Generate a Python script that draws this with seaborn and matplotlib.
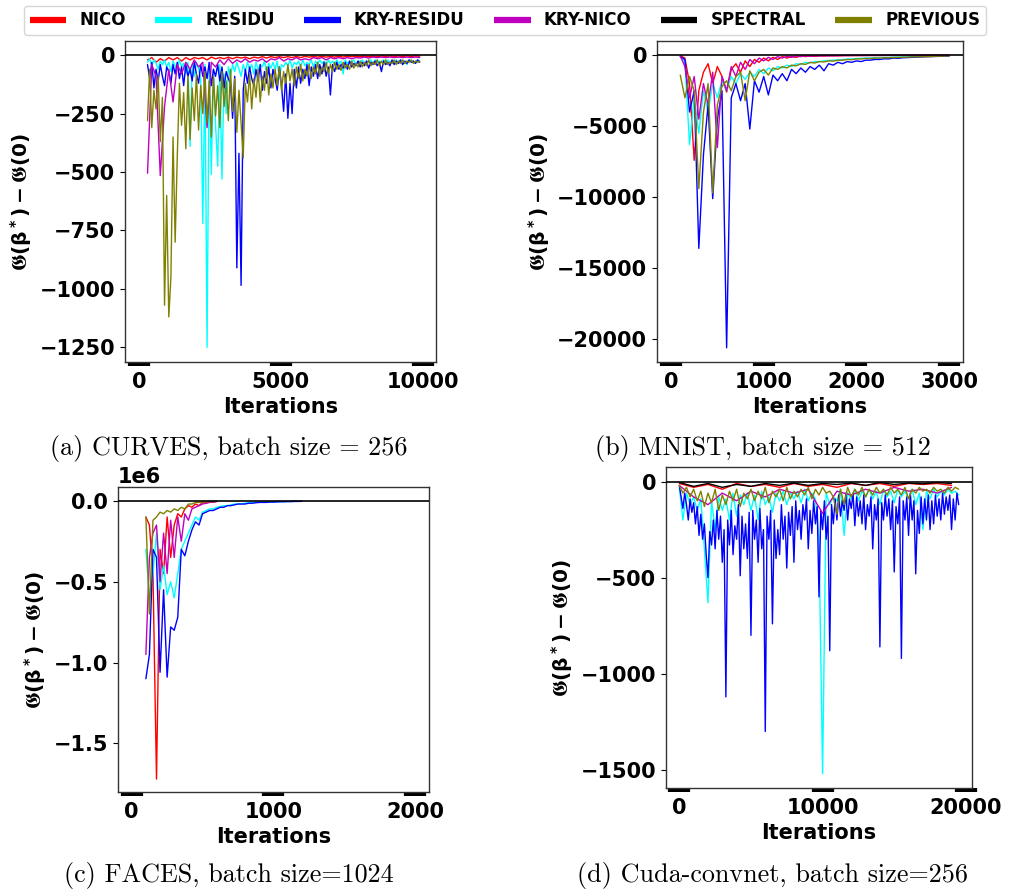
import matplotlib
matplotlib.use("Agg")
from matplotlib import pyplot as plt
from matplotlib.lines import Line2D
import pandas as pd
import numpy as np
import seaborn as sns

# legend order / colours
methods = ['NICO', 'RESIDU', 'KRY-RESIDU', 'KRY-NICO', 'SPECTRAL', 'PREVIOUS']
colors = {'NICO': '#ff0000', 'RESIDU': '#00ffff', 'KRY-RESIDU': '#0000ff',
          'KRY-NICO': '#bf00bf', 'SPECTRAL': '#000000', 'PREVIOUS': '#808000'}

# ---------------- (a) CURVES
curves_iter = np.arange(300, 9901, 75)        # 129 iterations
curves_iter_coarse = np.arange(300, 9901, 150)  # 65 iterations
curves_nico = [-20, -10, -30, -15, -25, -10, -20, -10, -25, -10,
               -20, -10, -15, -10, -20, -8, -15, -10, -15, -8,
               -15, -8, -12, -8, -15, -8, -12, -6, -12, -6,
               -10, -6, -10, -6, -10, -5, -10, -5, -8, -5,
               -8, -5, -8, -5, -8, -4, -8, -4, -6, -4,
               -6, -4, -6, -4, -6, -3, -5, -3, -5, -3,
               -5, -3, -5, -3, -4]
curves_residu = [-30, -15, -45, -20, -35, -60, -25, -40, -20, -50,
                 -30, -70, -25, -45, -60, -20, -50, -35, -80, -30,
                 -390, -40, -90, -30, -60, -100, -720, -40, -1250, -50,
                 -510, -60, -300, -475, -40, -530, -80, -250, -50, -90,
                 -40, -70, -30, -60, -90, -40, -70, -30, -60, -40,
                 -80, -30, -60, -40, -50, -25, -70, -35, -55, -30,
                 -60, -25, -100, -40, -50, -30, -45, -20, -55, -30,
                 -40, -25, -50, -20, -45, -30, -40, -20, -50, -25,
                 -40, -20, -35, -25, -45, -20, -35, -25, -40, -20,
                 -35, -25, -80, -20, -35, -25, -30, -20, -40, -25,
                 -30, -20, -35, -25, -30, -20, -35, -20, -30, -25,
                 -30, -20, -35, -20, -30, -25, -30, -20, -35, -20,
                 -30, -25, -40, -20, -30, -25, -35, -20, -25]
curves_kry_residu = [-40, -100, -30, -140, -60, -110, -40, -90, -130, -50,
                     -70, -120, -40, -80, -30, -100, -50, -130, -40, -90,
                     -60, -110, -30, -80, -120, -40, -90, -50, -100, -30,
                     -130, -60, -90, -40, -110, -50, -140, -70, -100, -120,
                     -270, -90, -910, -420, -985, -150, -60, -120, -50, -100,
                     -130, -60, -110, -40, -150, -70, -120, -50, -140, -60,
                     -100, -150, -50, -130, -240, -80, -270, -120, -250, -60,
                     -140, -50, -120, -60, -100, -40, -130, -50, -90, -40,
                     -100, -40, -80, -30, -90, -50, -170, -40, -70, -30,
                     -60, -40, -55, -30, -60, -25, -50, -35, -45, -25,
                     -50, -30, -45, -25, -55, -30, -40, -25, -45, -30,
                     -70, -25, -40, -30, -45, -20, -40, -25, -35, -20,
                     -40, -25, -35, -20, -30, -25, -35, -20, -30]
curves_kry_nico = [-505, -40, -90, -515, -220, -60, -200, -40, -80, -30,
                   -60, -20, -50, -30, -310, -30, -50, -20, -40, -15,
                   -35, -20, -30, -15, -30, -20, -25, -15, -30, -15,
                   -20, -10, -25, -15, -20, -10, -20, -15, -20, -10,
                   -15, -10, -20, -10, -15, -10, -15, -10, -15, -10,
                   -12, -8, -12, -8, -10, -8, -10, -8, -10, -8,
                   -10, -8, -10, -8, -10]
curves_previous = [-280, -60, -310, -150, -230, -90, -370, -180, -1070, -600,
                   -1120, -950, -350, -800, -430, -120, -300, -160, -400, -90,
                   -360, -140, -280, -80, -320, -130, -250, -70, -290, -110,
                   -350, -90, -260, -130, -310, -70, -220, -110, -280, -60,
                   -240, -100, -330, -150, -290, -440, -120, -200, -80, -230,
                   -100, -180, -60, -200, -90, -150, -50, -170, -80, -140,
                   -60, -130, -50, -150, -70, -120, -40, -110, -60, -130,
                   -50, -100, -40, -110, -60, -90, -40, -100, -50, -80,
                   -30, -90, -50, -70, -30, -80, -40, -70, -30, -60,
                   -40, -65, -30, -55, -40, -60, -25, -55, -35, -50,
                   -25, -50, -30, -45, -20, -45, -30, -40, -20, -45,
                   -25, -40, -20, -40, -30, -35, -20, -40, -25, -35,
                   -20, -35, -25, -30, -20, -35, -25, -30, -25]

# ---------------- (b) MNIST, iterations 100..3000 every 50
mnist_iter = np.arange(100, 3001, 50)
mnist_nico = [-50, -200, -2000, -7400, -2500, -1200, -600, -2000, -800, -1500,
              -2600, -1000, -600, -1200, -400, -800, -300, -500, -200, -400,
              -150, -300, -100, -200, -80, -150, -60, -100, -50, -80,
              -40, -60, -30, -50, -30, -40, -20, -30, -20, -25,
              -20, -20, -15, -20, -15, -15, -10, -15, -10, -10,
              -10, -10, -8, -8, -6, -6, -5, -5, -5]
mnist_residu = [-100, -500, -6300, -3000, -5500, -2500, -4000, -2000, -3000, -1800,
                -2500, -1500, -2000, -1300, -1700, -1200, -1500, -1000, -1300, -900,
                -1100, -800, -900, -700, -800, -600, -650, -500, -550, -450,
                -450, -400, -380, -350, -330, -300, -280, -260, -240, -220,
                -200, -190, -180, -170, -160, -150, -140, -130, -120, -110,
                -100, -95, -90, -80, -70, -65, -60, -50, -40]
mnist_kry_residu = [-100, -300, -4000, -2500, -13600, -7000, -3500, -10100, -4500, -2500,
                    -20600, -3000, -2000, -3200, -2000, -5200, -1800, -2600, -1500, -2800,
                    -1400, -1800, -1300, -1800, -1000, -1300, -900, -1200, -800, -1000,
                    -700, -1100, -600, -700, -500, -600, -450, -500, -400, -450,
                    -350, -350, -300, -300, -250, -260, -200, -220, -180, -170,
                    -150, -140, -120, -110, -100, -90, -80, -70, -60]
mnist_kry_nico = [-50, -800, -3000, -1500, -4500, -2000, -3500, -1200, -6500, -1500,
                  -2500, -800, -1500, -500, -1000, -300, -600, -200, -400, -150,
                  -300, -100, -200, -80, -150, -60, -100, -50, -80, -40,
                  -60, -30, -50, -30, -40, -20, -30, -20, -25, -20,
                  -20, -15, -20, -15, -15, -10, -15, -10, -10, -10,
                  -10, -8, -8, -6, -6, -5, -5, -5, -5]
mnist_previous = [-1400, -3000, -1500, -2500, -9400, -4000, -2000, -9700, -3500, -2200,
                  -1800, -2500, -1500, -1200, -3200, -1100, -1800, -1200, -1000, -1400,
                  -900, -1000, -800, -900, -700, -750, -600, -650, -500, -550,
                  -450, -480, -400, -420, -350, -360, -300, -320, -260, -270,
                  -230, -240, -200, -210, -180, -180, -160, -160, -140, -140,
                  -120, -120, -100, -100, -90, -80, -70, -60, -50]

# ---------------- (c) FACES, values in millions
faces_iter_long = np.arange(100, 1201, 25)
faces_iter_short = np.arange(100, 601, 25)
faces_nico = [-0.1, -0.15, -0.45, -1.72, -0.3, -0.45, -0.1, -0.35, -0.15, -0.08,
              -0.1, -0.05, -0.03, -0.04, -0.02, -0.03, -0.01, -0.015, -0.005, -0.008,
              -0.003]
faces_residu = [-0.3, -0.6, -0.45, -0.2, -0.55, -0.4, -0.58, -0.5, -0.6, -0.45,
                -0.3, -0.25, -0.2, -0.15, -0.1, -0.12, -0.07, -0.06, -0.05, -0.05,
                -0.04, -0.035, -0.03, -0.03, -0.025, -0.02, -0.02, -0.018, -0.015, -0.012,
                -0.012, -0.01, -0.01, -0.008, -0.008, -0.007, -0.006, -0.006, -0.005, -0.005,
                -0.004, -0.004, -0.003, -0.003, -0.003]
faces_kry_residu = [-1.1, -0.95, -0.3, -0.35, -1.06, -0.55, -1.09, -0.78, -0.8, -0.72,
                    -0.3, -0.34, -0.25, -0.18, -0.13, -0.15, -0.08, -0.07, -0.06, -0.06,
                    -0.05, -0.04, -0.04, -0.03, -0.03, -0.025, -0.02, -0.02, -0.02, -0.015,
                    -0.015, -0.012, -0.01, -0.01, -0.01, -0.008, -0.008, -0.007, -0.006, -0.006,
                    -0.005, -0.005, -0.004, -0.004, -0.003]
faces_kry_nico = [-0.95, -0.35, -0.2, -0.15, -0.5, -0.2, -0.45, -0.12, -0.35, -0.1,
                  -0.25, -0.08, -0.12, -0.05, -0.04, -0.03, -0.02, -0.015, -0.01, -0.008,
                  -0.005]
faces_previous = [-0.1, -0.7, -0.12, -0.1, -0.07, -0.08, -0.06, -0.07, -0.05, -0.06,
                  -0.04, -0.05, -0.02, -0.02, -0.01, -0.01, -0.008, -0.006, -0.005, -0.004,
                  -0.003]

# ---------------- (d) Cuda-convnet
cuda_iter_fine = np.arange(0, 19501, 125)
cuda_iter_mid = np.arange(0, 19501, 250)
cuda_iter_coarse = np.arange(0, 19001, 1000)
cuda_nico = [-10, -30, -15, -40, -10, -25, -15, -30, -10, -25,
             -15, -30, -10, -20, -10, -25, -10, -15, -10, -20]
cuda_residu = [-30, -200, -60, -120, -80, -150, -90, -350, -630, -100,
               -250, -80, -150, -90, -200, -60, -180, -70, -120, -60,
               -150, -70, -200, -50, -120, -80, -160, -60, -100, -50,
               -120, -60, -90, -50, -110, -40, -100, -60, -90, -300,
               -1520, -60, -120, -80, -100, -40, -280, -60, -90, -40,
               -100, -50, -80, -40, -90, -50, -120, -40, -80, -50,
               -110, -40, -80, -50, -90, -40, -120, -60, -250, -50,
               -90, -40, -80, -50, -70, -40, -60, -50, -70]
cuda_kry_residu = [-20, -80, -140, -60, -120, -200, -90, -160, -110, -220,
                   -130, -280, -170, -300, -220, -380, -500, -260, -330, -200,
                   -350, -150, -300, -180, -420, -250, -1120, -200, -330, -150,
                   -380, -230, -300, -120, -490, -180, -350, -220, -400, -160,
                   -800, -150, -300, -200, -420, -140, -350, -250, -1300, -180,
                   -300, -150, -740, -200, -400, -250, -380, -120, -300, -180,
                   -450, -160, -280, -130, -420, -100, -250, -150, -300, -120,
                   -200, -90, -350, -150, -270, -100, -220, -130, -600, -150,
                   -250, -100, -300, -180, -880, -120, -220, -90, -200, -70,
                   -180, -100, -150, -60, -200, -90, -140, -60, -230, -80,
                   -180, -100, -220, -70, -250, -120, -180, -80, -350, -120,
                   -200, -90, -860, -110, -200, -70, -180, -90, -250, -100,
                   -470, -130, -220, -80, -920, -100, -200, -80, -280, -60,
                   -200, -100, -480, -150, -270, -80, -220, -90, -200, -70,
                   -250, -100, -220, -70, -180, -90, -200, -60, -170, -80,
                   -150, -70, -250, -90, -200, -60, -120]
cuda_kry_nico = [-20, -80, -120, -60, -100, -50, -80, -40, -60, -40,
                 -165, -50, -70, -40, -60, -30, -50, -40, -60, -30]
cuda_spectral = [-5, -25, -10, -30, -15, -25, -10, -20, -8, -20,
                 -10, -15, -8, -20, -5, -15, -8, -12, -5, -10]
cuda_previous = [-20, -60, -30, -80, -40, -100, -50, -130, -60, -110,
                 -40, -150, -70, -120, -50, -100, -40, -130, -60, -90,
                 -40, -100, -50, -90, -30, -110, -50, -80, -40, -100,
                 -30, -90, -50, -80, -40, -70, -30, -90, -40, -70,
                 -30, -60, -50, -80, -170, -40, -120, -30, -80, -40,
                 -70, -30, -80, -40, -70, -30, -60, -40, -70, -30,
                 -60, -40, -70, -30, -90, -40, -60, -30, -50, -40,
                 -60, -30, -50, -40, -60, -30, -50, -30, -40]


def to_long(series):
    frames = []
    for name, (xs, ys) in series.items():
        frames.append(pd.DataFrame({'iter': xs, 'value': ys, 'method': name}))
    return pd.concat(frames, ignore_index=True)


panels = [
    {'data': to_long({'NICO': (curves_iter_coarse, curves_nico),
                      'RESIDU': (curves_iter, curves_residu),
                      'KRY-RESIDU': (curves_iter, curves_kry_residu),
                      'KRY-NICO': (curves_iter_coarse, curves_kry_nico),
                      'PREVIOUS': (curves_iter, curves_previous)}),
     'rect': [0.1238, 0.5946, 0.3079, 0.3595],
     'xlim': (-493, 10475), 'ylim': (-1313, 61),
     'xticks': [0, 5000, 10000], 'yticks': [0, -250, -500, -750, -1000, -1250],
     'caption': '(a) CURVES, batch size = 256', 'cap_xy': (0.226, 0.4975)},
    {'data': to_long({'NICO': (mnist_iter, mnist_nico),
                      'RESIDU': (mnist_iter, mnist_residu),
                      'KRY-RESIDU': (mnist_iter, mnist_kry_residu),
                      'KRY-NICO': (mnist_iter, mnist_kry_nico),
                      'PREVIOUS': (mnist_iter, mnist_previous)}),
     'rect': [0.6505, 0.5946, 0.3030, 0.3595],
     'xlim': (-151, 3150), 'ylim': (-21600, 1000),
     'xticks': [0, 1000, 2000, 3000], 'yticks': [0, -5000, -10000, -15000, -20000],
     'caption': '(b) MNIST, batch size = 512', 'cap_xy': (0.755, 0.4975)},
    {'data': to_long({'NICO': (faces_iter_short, np.array(faces_nico) * 1e6),
                      'RESIDU': (faces_iter_long, np.array(faces_residu) * 1e6),
                      'KRY-RESIDU': (faces_iter_long, np.array(faces_kry_residu) * 1e6),
                      'KRY-NICO': (faces_iter_short, np.array(faces_kry_nico) * 1e6),
                      'PREVIOUS': (faces_iter_short, np.array(faces_previous) * 1e6)}),
     'rect': [0.1168, 0.1131, 0.3079, 0.3415],
     'xlim': (-97, 2098), 'ylim': (-1.80e6, 0.085e6),
     'xticks': [0, 1000, 2000], 'yticks': [0, -0.5e6, -1.0e6, -1.5e6],
     'caption': '(c) FACES, batch size=1024', 'cap_xy': (0.227, 0.0195)},
    {'data': to_long({'NICO': (cuda_iter_coarse, cuda_nico),
                      'RESIDU': (cuda_iter_mid, cuda_residu),
                      'KRY-RESIDU': (cuda_iter_fine, cuda_kry_residu),
                      'KRY-NICO': (cuda_iter_coarse, cuda_kry_nico),
                      'SPECTRAL': (cuda_iter_coarse, cuda_spectral),
                      'PREVIOUS': (cuda_iter_mid, cuda_previous)}),
     'rect': [0.6594, 0.1176, 0.3030, 0.3595],
     'xlim': (-930, 20430), 'ylim': (-1594, 76),
     'xticks': [0, 10000, 20000], 'yticks': [0, -500, -1000, -1500],
     'caption': '(d) Cuda-convnet, batch size=256', 'cap_xy': (0.765, 0.0195)},
]

sns.set_style("white")
plt.rcParams['font.family'] = ['DejaVu Sans']
plt.rcParams['font.weight'] = 'bold'
plt.rcParams['axes.labelweight'] = 'bold'
plt.rcParams['font.size'] = 15
plt.rcParams['text.color'] = 'black'
plt.rcParams['axes.labelcolor'] = 'black'
plt.rcParams['xtick.color'] = 'black'
plt.rcParams['ytick.color'] = 'black'
plt.rcParams['mathtext.fontset'] = 'dejavusans'
plt.rcParams['mathtext.default'] = 'bf'

fig = plt.figure(figsize=(10.10, 8.93), dpi=100)

ylabel = r'$\mathfrak{G}(\beta^*) - \mathfrak{G}(0)$'

for p in panels:
    ax = fig.add_axes(p['rect'])
    df = p['data']
    order = [m for m in methods if m in df['method'].unique()]
    sns.lineplot(data=df, x='iter', y='value', hue='method', hue_order=order,
                 palette=colors, estimator=None, sort=False, linewidth=1.0,
                 legend=False, ax=ax)
    ax.axhline(0, color='black', lw=1.2, zorder=5)
    ax.set_xlim(*p['xlim'])
    ax.set_ylim(*p['ylim'])
    ax.set_xticks(p['xticks'])
    ax.set_yticks(p['yticks'])
    ax.set_xlabel('Iterations', fontsize=15, labelpad=4)
    ax.set_ylabel(ylabel, fontsize=14.5)
    ax.tick_params(axis='x', bottom=True, width=16, length=3, pad=4, labelsize=15)
    ax.tick_params(axis='y', left=True, width=0.8, length=3.5, labelsize=15)
    ax.yaxis.get_offset_text().set_fontsize(15)
    ax.yaxis.get_offset_text().set_fontweight('bold')
    for s in ax.spines.values():
        s.set_color('#333333')
        s.set_linewidth(1.0)
    fig.text(p['cap_xy'][0], p['cap_xy'][1], p['caption'], ha='center', va='center',
             family='cmr10', fontweight='normal', fontsize=18.8)

handles = [Line2D([], [], color=colors[m], lw=4.5, solid_capstyle='butt') for m in methods]
fig.legend(handles, methods, loc='upper center', bbox_to_anchor=(0.5, 1.003), ncol=6,
           frameon=True, fancybox=True, prop={'weight': 'bold', 'size': 12},
           handlelength=2.2, columnspacing=1.75, borderpad=0.35)

fig.savefig('out.png', dpi=100)
